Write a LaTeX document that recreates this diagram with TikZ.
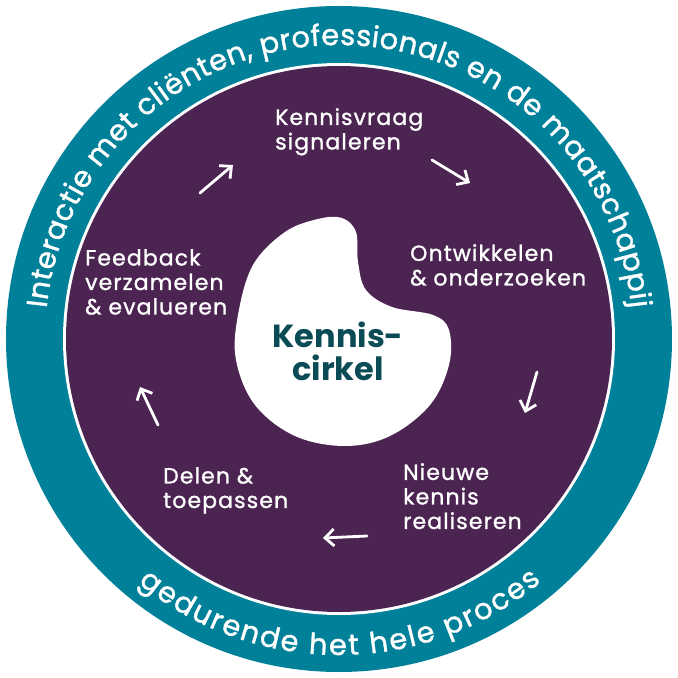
\documentclass[tikz,border=0pt]{standalone}
\usepackage{fontspec}
\setmainfont{Poppins}
\newfontfamily\stagefont{Poppins}[FakeBold=1.2,LetterSpace=5]
\newfontfamily\ringfont{Poppins}[FakeBold=1.2]
\usetikzlibrary{arrows.meta,decorations.text}
\definecolor{ringteal}{RGB}{0,129,153}
\definecolor{kcpurple}{RGB}{76,36,82}
\definecolor{kcdark}{RGB}{11,75,85}

\begin{document}
\begin{tikzpicture}[x=1pt,y=1pt,>={Straight Barb[length=9pt,width=17pt]},
                    stage text/.style={white,align=left,anchor=north west,inner sep=0pt,
                                       font=\stagefont\fontsize{22}{24.5}\selectfont},
                    cycle arrow/.style={->,white,line width=2.8pt,line cap=round,line join=round}]
  \useasboundingbox (-339,-339) rectangle (339,339);
  \fill[ringteal] (0,0) circle (333);
  \fill[white] (0,0) circle (276);
  \fill[kcpurple] (0,0) circle (273);
  % text round the ring
  \path[decorate,decoration={text along path,text align=fit to path,text color=white,
        text={|\ringfont\fontsize{29}{29}\selectfont|Interactie met cliënten, professionals en de maatschappij}}]
    (174:294) arc[start angle=174,end angle=6,radius=294];
  \path[decorate,decoration={text along path,text align=fit to path,text color=white,
        text={|\ringfont\fontsize{29}{29}\selectfont|gedurende het hele proces}}]
    (230.5:316) arc[start angle=230.5,end angle=309.8,radius=316];
  % centre blob
  \fill[white] plot[smooth cycle,tension=0.6] coordinates {
    (3,121) (17,107) (19,77) (27,49) (53,32) (94,24) (110,9) (110,-26)
    (91,-66) (51,-97) (6,-107) (-44,-97) (-84,-66) (-103,-21) (-101,24)
    (-86,74) (-54,107) (-21,120)};
  \node[kcdark,font=\fontsize{32}{33}\selectfont\bfseries,align=center] (kc) at (-1,-12) {Kennis-\\cirkel};
  % stages
  \node[stage text] (signal) at (-64,231) {Kennisvraag\\signaleren};
  \node[stage text] (develop) at (71,95) {Ontwikkelen\\\& onderzoeken};
  \node[stage text] (realise) at (64,-124) {Nieuwe\\kennis\\realiseren};
  \node[stage text] (share) at (-176,-128) {Delen \&\\toepassen};
  \node[stage text] (feedback) at (-254,90) {Feedback\\verzamelen\\\& evalueren};
  % arrows
  \coordinate (a1) at (-139,146);
  \coordinate (b1) at (-106,174);
  \coordinate (a2) at (93,179);
  \coordinate (b2) at (131,156);
  \coordinate (a3) at (198,-33);
  \coordinate (b3) at (186,-74);
  \coordinate (a4) at (28,-197);
  \coordinate (b4) at (-16,-199);
  \coordinate (a5) at (-181,-86);
  \coordinate (b5) at (-199,-48);
  \path[cycle arrow]
    (a1) edge (b1)
    (a2) edge (b2)
    (a3) edge (b3)
    (a4) edge (b4)
    (a5) edge (b5);
\end{tikzpicture}
\end{document}
